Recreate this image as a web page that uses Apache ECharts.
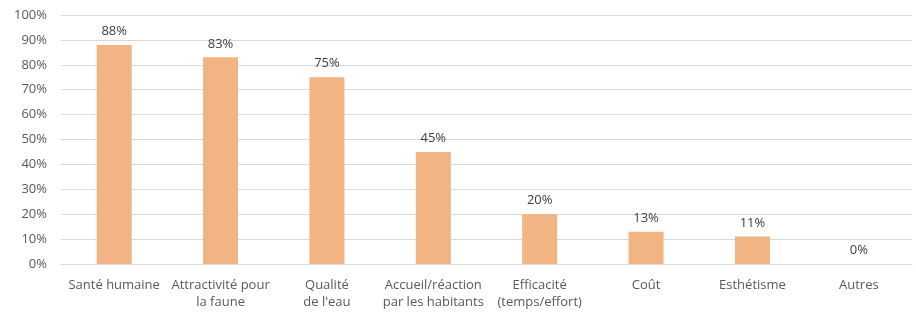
<!DOCTYPE html>
<html>
<head>
<meta charset="utf-8">
<script src="https://cdn.jsdelivr.net/npm/echarts@6/dist/echarts.min.js"></script>
<style>
  html, body { margin: 0; padding: 0; background: #fff; }
  #chart { width: 916px; height: 313px; }
</style>
</head>
<body>
<div id="chart"></div>
<script>
const categories = [
    'Santé humaine',
    'Attractivité pour\nla faune',
    'Qualité\nde l\'eau',
    'Accueil/réaction\npar les habitants',
    'Efficacité\n(temps/effort)',
    'Coût',
    'Esthétisme',
    'Autres'
]
const percents = [88, 83, 75, 45, 20, 13, 11, 0]

const chart = echarts.init(document.querySelector('#chart'))
window.onresize = function () {
    chart.resize()
}
chart.setOption({
    animation: false,
    textStyle: { fontFamily: 'Open Sans', color: '#595959' },
    grid: { left: 61, right: 4, top: 15, bottom: 49 },
    xAxis: {
        type: 'category',
        data: categories,
        axisLine: { lineStyle: { color: '#d9d9d9' } },
        axisTick: { show: false },
        axisLabel: { color: '#595959', fontSize: 13, lineHeight: 17, margin: 13, interval: 0 }
    },
    yAxis: {
        type: 'value',
        min: 0,
        max: 100,
        interval: 10,
        axisLine: { show: false },
        axisTick: { show: false },
        splitLine: { lineStyle: { color: '#d9d9d9', width: 1 } },
        axisLabel: { color: '#595959', fontSize: 13, margin: 14, formatter: '{value}%' }
    },
    series: [
        {
            type: 'bar',
            data: percents,
            barWidth: 35,
            itemStyle: { color: '#f2b482' },
            label: {
                show: true,
                position: 'top',
                distance: 7,
                color: '#404040',
                fontSize: 13,
                formatter: '{c}%'
            }
        }
    ]
})
</script>
</body>
</html>
